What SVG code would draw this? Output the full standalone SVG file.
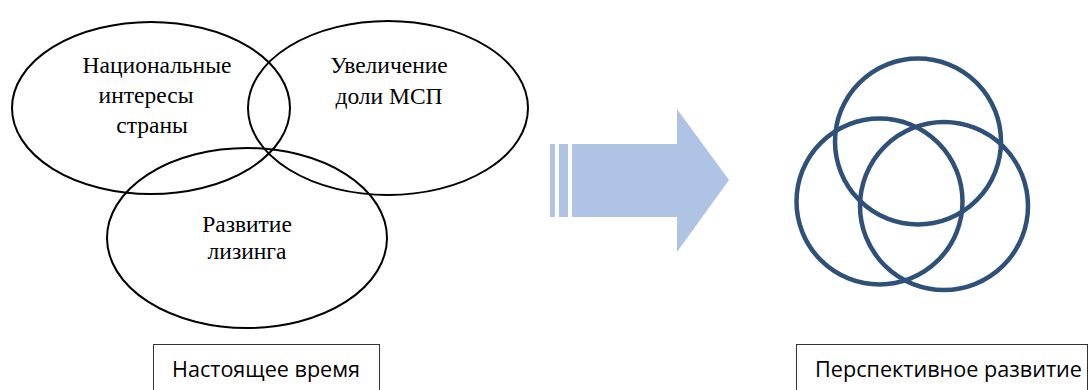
<svg xmlns="http://www.w3.org/2000/svg" width="1091" height="390" viewBox="0 0 1091 390">
<style>
.ell{fill:none;stroke:#000;stroke-width:2}
.ring{fill:none;stroke:#2f5179;stroke-width:4.5}
.t{font-family:"Liberation Serif","Times New Roman",serif;font-size:23.5px;fill:#000;text-anchor:middle}
.lbl{fill:#fff;stroke:#333;stroke-width:1}
.lt{font-family:"Open Sans","Liberation Sans",sans-serif;font-size:21px;fill:#000}
</style>
<rect width="1091" height="390" fill="#fff"/>
<g id="national">
<ellipse class="ell" cx="151" cy="108" rx="139" ry="86"/>
<text class="t" x="157" y="73">Национальные</text>
<text class="t" x="146" y="103">интересы</text>
<text class="t" x="152" y="133">страны</text>
</g>
<g id="msp">
<ellipse class="ell" cx="388" cy="108" rx="140" ry="87"/>
<text class="t" x="389" y="73">Увеличение</text>
<text class="t" x="389" y="104">доли МСП</text>
</g>
<g id="leasing">
<ellipse class="ell" cx="247" cy="238" rx="140" ry="90"/>
<text class="t" x="247" y="232">Развитие</text>
<text class="t" x="247" y="259">лизинга</text>
</g>
<g id="connectors">
<g fill="#afc4e4">
<rect x="550" y="144" width="5" height="73"/>
<rect x="559" y="144" width="9" height="73"/>
<polygon points="572,144 677,144 677,109 729,180 677,252 677,217 572,217"/>
</g>
</g>
<g id="rings">
<circle class="ring" cx="918" cy="141.5" r="83"/>
<circle class="ring" cx="879.5" cy="201.5" r="83"/>
<circle class="ring" cx="944" cy="206" r="84"/>
</g>
<g id="label-now">
<rect class="lbl" x="153.5" y="344.5" width="226" height="50"/>
<text class="lt" x="172" y="377" textLength="188" lengthAdjust="spacingAndGlyphs">Настоящее время</text>
</g>
<g id="label-future">
<rect class="lbl" x="796.5" y="344.5" width="291" height="50"/>
<text class="lt" x="815" y="377" textLength="267" lengthAdjust="spacingAndGlyphs">Перспективное развитие</text>
</g>
</svg>
